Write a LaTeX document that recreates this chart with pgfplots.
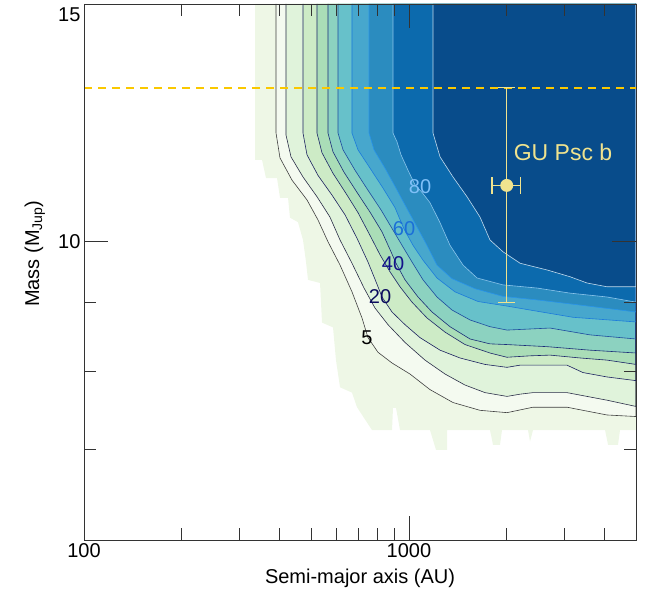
\documentclass[border=0pt]{standalone}
\usepackage{pgfplots}
\usepackage{pgfplotstable}
\pgfplotsset{compat=1.18}
\usepackage{fontspec}
\setmainfont{Liberation Sans}

\definecolor{cA}{HTML}{EEF7E6}
\definecolor{cB}{HTML}{F4FAF0}
\definecolor{cC}{HTML}{E0F3DB}
\definecolor{cD}{HTML}{CDEBC6}
\definecolor{cE}{HTML}{AADDB7}
\definecolor{cF}{HTML}{8CD2C0}
\definecolor{cG}{HTML}{67C1CA}
\definecolor{cH}{HTML}{47A7CD}
\definecolor{cI}{HTML}{2B8CBF}
\definecolor{cJ}{HTML}{0C6AAD}
\definecolor{cK}{HTML}{084C8B}
\definecolor{lA}{HTML}{404040}
\definecolor{lB}{HTML}{2A2D48}
\definecolor{lC}{HTML}{1C2160}
\definecolor{lD}{HTML}{1C2468}
\definecolor{lE}{HTML}{1B2D78}
\definecolor{lF}{HTML}{1E4A9E}
\definecolor{lG}{HTML}{1C7BDB}
\definecolor{lH}{HTML}{2894EA}
\definecolor{lI}{HTML}{8CC6EC}
\definecolor{lJ}{HTML}{C3DCEE}
\definecolor{tC}{HTML}{0B0B5E}
\definecolor{tE}{HTML}{12128A}
\definecolor{tG}{HTML}{1A6FD8}
\definecolor{tI}{HTML}{80C0F8}
\definecolor{ydash}{RGB}{250,200,0}
\definecolor{gpsc}{HTML}{F0E38E}

\pgfplotstableread{
a M
336.0 15
336.0 11.49
353.1 11.49
363.2 11.14
392.7 11.14
401.1 10.77
424.5 10.77
430.5 10.41
455.6 10.33
472.1 10.02
482.3 9.65
489.1 9.36
532.6 9.31
540.2 8.70
583.9 8.63
596.4 8.16
613.8 7.79
668.1 7.72
692.2 7.53
770.0 7.24
887.1 7.24
893.4 7.52
912.6 7.52
938.9 7.24
1161.2 7.24
1211.6 7.00
1310.2 7.00
1310.2 7.24
1776.7 7.24
1814.9 7.06
1907.3 7.06
1934.6 7.24
2326 7.24
2359 7.10
2410 7.24
4015 7.24
4101 7.06
4401 7.06
4464 7.24
5000 7.24
5000 15
}\pale

\pgfplotstableread{
a M
390 15
390 12.03
401 11.53
436.7 11.10
485.7 10.73
525.0 10.37
563.6 9.99
613.8 9.60
668.1 9.17
717.2 8.77
748.3 8.48
803.3 8.27
887.1 8.12
1007.8 7.97
1161 7.76
1367 7.59
1655 7.49
2004 7.46
2410 7.53
3066 7.53
3434 7.49
4072 7.43
5000 7.41
5000 15
}\cfive

\pgfplotstableread{
a M
418.5 15
418.5 11.99
433.6 11.55
472.1 11.16
521.3 10.79
571.6 10.42
613.8 10.02
668.1 9.63
727.5 9.23
786.5 8.92
862.3 8.67
972.8 8.41
1120.9 8.16
1291.9 7.97
1488.2 7.82
1715 7.72
2004 7.67
2198 7.70
2410 7.72
3066 7.72
3434 7.68
4072 7.62
5000 7.54
5000 15
}\cten

\pgfplotstableread{
a M
472.1 15
472.1 12.03
485.7 11.59
525.0 11.19
579.8 10.82
636.0 10.46
692.2 10.05
748.3 9.65
792.1 9.33
826.5 9.09
887.1 8.86
972.8 8.67
1081.8 8.48
1246.9 8.30
1436.3 8.19
1715 8.10
2004 8.06
2198 8.09
3066 8.09
3434 7.99
4072 7.93
5000 7.88
5000 15
}\ctwenty

\pgfplotstableread{
a M
521.3 15
521.3 12.03
540.2 11.63
583.9 11.23
640.4 10.85
697.1 10.50
759.1 10.10
814.8 9.77
874.6 9.49
938.9 9.25
1022.2 9.01
1136.7 8.77
1291.9 8.56
1488.2 8.38
1776.7 8.26
2004 8.20
2359 8.22
2718 8.23
3362 8.19
4072 8.16
5000 8.10
5000 15
}\cthirty

\pgfplotstableread{
a M
563.6 15
563.6 12.03
583.9 11.65
631.5 11.25
692.2 10.87
759.1 10.51
826.5 10.16
880.8 9.82
912.6 9.63
972.8 9.36
1066.6 9.09
1177.8 8.86
1338.1 8.64
1542.3 8.46
1776.7 8.39
2004 8.38
2661 8.35
3609 8.30
5000 8.26
5000 15
}\cforty

\pgfplotstableread{
a M
605.1 15
605.1 12.03
627.0 11.69
682.5 11.29
748.3 10.91
820.6 10.55
887.1 10.22
952.3 9.93
1022.2 9.65
1105.1 9.36
1220.2 9.09
1357.2 8.89
1542.3 8.74
1776.7 8.64
2004 8.59
2718 8.62
3609 8.52
5000 8.46
5000 15
}\cfifty

\pgfplotstableread{
a M
668.1 15
668.1 12.03
697.1 11.69
759.1 11.33
832.3 10.95
906.2 10.59
965.9 10.21
1029.5 9.93
1105.1 9.68
1220.2 9.39
1386.4 9.17
1632.2 9.02
2004 8.95
2359 8.89
3200 8.78
5000 8.71
5000 15
}\csixty

\pgfplotstableread{
a M
754 15
754 12.03
781.0 11.69
844.2 11.33
912.6 10.95
972.8 10.64
1051.5 10.28
1136.7 9.93
1220.2 9.60
1357.2 9.38
1598 9.22
1948 9.10
2532 9.04
3434 8.96
5000 8.86
5000 15
}\cseventy

\pgfplotstableread{
a M
893.4 15
893.4 12.03
919.0 11.85
945.6 11.59
993.6 11.29
1044.2 11.01
1097.3 10.87
1161.2 10.68
1246.9 10.32
1338.1 9.93
1467.2 9.60
1620.7 9.39
1948 9.28
2479 9.23
3133 9.15
4072 9.09
5000 9.01
5000 15
}\ceighty

\pgfplotstableread{
a M
1186.2 15
1186.2 12.03
1246.9 11.55
1366.8 11.16
1509.3 10.79
1655.2 10.42
1776.7 10.02
1948 9.82
2198 9.63
2661 9.52
3133 9.41
3533 9.31
4072 9.25
5000 9.25
5000 15
}\cninety

\pgfplotstableread{
a M
100 13
5000 13
}\jupline

\begin{document}
\begin{tikzpicture}
\useasboundingbox (-84pt,-54pt) rectangle (568pt,540pt);
\begin{axis}[
  scale only axis,
  width=552pt, height=536pt,
  xmode=log, ymode=log,
  xmin=100, xmax=5000, ymin=6, ymax=15,
  axis on top,
  xtick={100,1000}, xticklabels={100,1000},
  minor xtick={200,300,400,500,600,700,800,900,2000,3000,4000,5000},
  ytick={10}, yticklabels={10},
  minor ytick={6,7,8,9},
  extra y ticks={15}, extra y tick labels={15},
  extra y tick style={major tick length=0pt, yticklabel style={anchor=north east}},
  tick align=inside,
  major tick length=24pt, minor tick length=12pt,
  tick style={black!80, line width=0.8pt},
  axis line style={black!80, line width=0.8pt},
  ticklabel style={font=\fontsize{20}{24}\selectfont},
  xlabel={Semi-major axis (AU)},
  ylabel={Mass (M\textsubscript{Jup})},
  label style={font=\fontsize{20}{24}\selectfont},
  xlabel style={at={(rel axis cs:0.5,-0.071)}, anchor=center},
  ylabel style={at={(rel axis cs:-0.089,0.534)}, anchor=center, rotate=0},
  clip=true,
]
\addplot[fill=cA, draw=none, mark=none] table {\pale};
\addplot[fill=cB, draw=none, mark=none] table {\cfive};
\addplot[fill=cC, draw=none, mark=none] table {\cten};
\addplot[fill=cD, draw=none, mark=none] table {\ctwenty};
\addplot[fill=cE, draw=none, mark=none] table {\cthirty};
\addplot[fill=cF, draw=none, mark=none] table {\cforty};
\addplot[fill=cG, draw=none, mark=none] table {\cfifty};
\addplot[fill=cH, draw=none, mark=none] table {\csixty};
\addplot[fill=cI, draw=none, mark=none] table {\cseventy};
\addplot[fill=cJ, draw=none, mark=none] table {\ceighty};
\addplot[fill=cK, draw=none, mark=none] table {\cninety};

\addplot[draw=lA, line width=0.6pt, mark=none] table {\cfive};
\addplot[draw=lB, line width=0.6pt, mark=none] table {\cten};
\addplot[draw=lC, line width=0.6pt, mark=none] table {\ctwenty};
\addplot[draw=lD, line width=0.6pt, mark=none] table {\cthirty};
\addplot[draw=lE, line width=0.6pt, mark=none] table {\cforty};
\addplot[draw=lF, line width=0.6pt, mark=none] table {\cfifty};
\addplot[draw=lG, line width=0.6pt, mark=none] table {\csixty};
\addplot[draw=lH, line width=0.6pt, mark=none] table {\cseventy};
\addplot[draw=lI, line width=0.6pt, mark=none] table {\ceighty};
\addplot[draw=lJ, line width=0.6pt, mark=none] table {\cninety};

\node[font=\fontsize{20}{24}\selectfont, text=black, inner sep=1pt] at (axis cs:743,8.48) {5};
\node[font=\fontsize{20}{24}\selectfont, text=tC, inner sep=1pt] at (axis cs:814.8,9.09) {20};
\node[font=\fontsize{20}{24}\selectfont, text=tE, inner sep=1pt] at (axis cs:893.4,9.63) {40};
\node[font=\fontsize{20}{24}\selectfont, text=tG, inner sep=1pt] at (axis cs:965.9,10.21) {60};
\node[font=\fontsize{20}{24}\selectfont, text=tI, inner sep=1pt] at (axis cs:1081.8,10.97) {80};

\addplot[color=ydash, line width=2pt, dash pattern=on 8pt off 6pt, mark=none] table {\jupline};

\addplot[color=gpsc, line width=1.3pt, mark=*, mark size=5.8pt,
  mark options={fill=gpsc, draw=gpsc},
  error bars/.cd, x dir=both, x explicit, y dir=both, y explicit,
  error bar style={line width=1.3pt, color=gpsc},
  error mark options={rotate=90, mark size=8.5pt, line width=1.3pt, color=gpsc}]
  coordinates {(2000,11) +- (200,2)};

\node[font=\fontsize{23}{27}\selectfont, text=gpsc, anchor=center] at (axis cs:2981,11.65) {GU Psc b};
\end{axis}
\end{tikzpicture}
\end{document}
